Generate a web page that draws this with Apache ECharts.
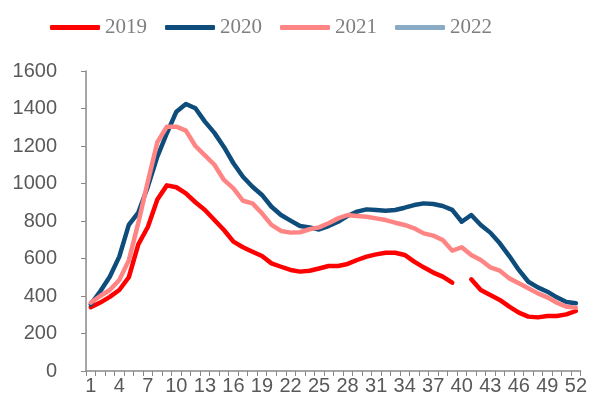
<!DOCTYPE html>
<html>
<head>
<meta charset="utf-8">
<script src="https://cdn.jsdelivr.net/npm/echarts@6/dist/echarts.min.js"></script>
<style>
html,body{margin:0;padding:0;background:#fff;}
#chart{width:590px;height:411px;}
</style>
</head>
<body>
<div id="chart"></div>
<script>
var weeks = [];
for (var w = 1; w <= 52; w++) weeks.push(String(w));

var seriesNames = ['2019', '2020', '2021', '2022'];

var s2019 = [340, 365, 395, 432, 500, 675, 768, 915, 990, 980, 947, 900, 859, 805, 752, 690, 660, 636, 613, 574, 556, 539, 530, 535, 547, 560, 560, 571, 592, 610, 622, 631, 631, 619, 583, 553, 525, 503, 471, null, 489, 432, 405, 379, 343, 311, 290, 286, 293, 293, 302, 320];
var s2020 = [355, 425, 503, 610, 779, 845, 983, 1143, 1268, 1383, 1424, 1401, 1330, 1270, 1195, 1108, 1036, 983, 939, 876, 832, 802, 773, 766, 755, 773, 796, 827, 850, 862, 859, 855, 859, 871, 885, 894, 891, 880, 859, 796, 832, 779, 738, 681, 613, 539, 476, 446, 423, 393, 368, 361];
var s2021 = [365, 400, 432, 485, 590, 790, 1010, 1220, 1303, 1303, 1282, 1200, 1150, 1100, 1019, 974, 908, 894, 841, 779, 747, 738, 740, 756, 766, 788, 814, 832, 827, 823, 814, 805, 791, 779, 761, 734, 722, 699, 642, 660, 619, 592, 553, 535, 494, 468, 441, 414, 393, 364, 343, 338];
var s2022 = [];

var colors = ['#FF0000', '#0E4D7B', '#FF8585', '#8AABC5'];
var dataList = [s2019, s2020, s2021, s2022];

var chart = echarts.init(document.getElementById('chart'));
chart.setOption({
  animation: false,
  color: colors,
  legend: {
    top: 12,
    left: 45,
    itemWidth: 50,
    itemHeight: 5,
    itemGap: 18,
    icon: 'roundRect',
    textStyle: { fontFamily: 'Liberation Serif', fontSize: 21, color: '#7F7F7F' },
    data: seriesNames
  },
  grid: { left: 86, right: 8, top: 71, bottom: 40, containLabel: false },
  xAxis: {
    type: 'category',
    data: weeks,
    boundaryGap: true,
    axisLine: { lineStyle: { color: '#898989', width: 1.5 } },
    axisTick: { show: true, length: 5, alignWithLabel: false, interval: 0, lineStyle: { color: '#898989' } },
    axisLabel: { interval: 2, margin: 5, fontFamily: 'Liberation Sans', fontSize: 20, color: '#595959' },
    splitLine: { show: false }
  },
  yAxis: {
    type: 'value',
    min: 0,
    max: 1600,
    interval: 200,
    axisLine: { show: true, lineStyle: { color: '#898989', width: 1.5 } },
    axisTick: { show: true, length: 5, lineStyle: { color: '#898989' } },
    axisLabel: {
      margin: 29, fontFamily: 'Liberation Sans', fontSize: 20, color: '#595959',
      formatter: function (v) { return String(v); }
    },
    splitLine: { show: false }
  },
  series: seriesNames.map(function (n, i) {
    return {
      name: n,
      type: 'line',
      data: dataList[i],
      showSymbol: false,
      symbol: 'none',
      connectNulls: false,
      lineStyle: { width: 4.5, color: colors[i], cap: 'round', join: 'round' }
    };
  })
});
</script>
</body>
</html>
